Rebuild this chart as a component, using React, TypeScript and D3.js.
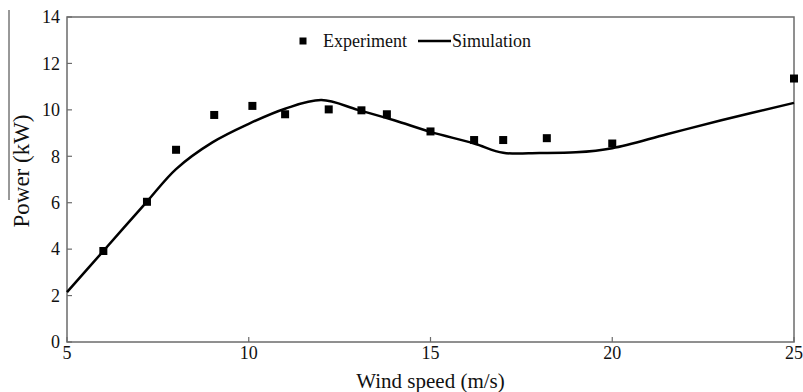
import React from "react";
import * as d3 from "d3";

// Measured turbine output vs. wind speed
const experimentSpeed = [6.0, 7.2, 8.0, 9.05, 10.1, 11.0, 12.2, 13.1, 13.8, 15.0, 16.2, 17.0, 18.2, 20.0, 25.0];
const experimentPower = [3.92, 6.04, 8.28, 9.78, 10.17, 9.81, 10.02, 9.98, 9.81, 9.07, 8.7, 8.7, 8.78, 8.55, 11.35];

// Simulated power curve
const simulationSpeed = [5, 6, 7.2, 8, 9, 10, 11, 12, 13, 14, 15, 16.2, 17, 18, 19, 20, 21.5, 23, 25];
const simulationPower = [2.15, 3.92, 6.05, 7.45, 8.6, 9.4, 10.05, 10.42, 10.0, 9.55, 9.05, 8.55, 8.15, 8.14, 8.17, 8.35, 8.95, 9.55, 10.3];

const xTicks = [5, 10, 15, 20, 25];
const yTicks = [0, 2, 4, 6, 8, 10, 12, 14];

const W = 803;
const H = 392;
const FONT = "Liberation Serif, DejaVu Serif, serif";

export default function App() {
  const x = d3.scaleLinear().domain([5, 25]).range([67, 794]);
  const y = d3.scaleLinear().domain([0, 14]).range([342, 17]);

  const sim = simulationSpeed.map((s, i) => [s, simulationPower[i]] as [number, number]);
  const line = d3
    .line<[number, number]>()
    .x((d) => x(d[0]))
    .y((d) => y(d[1]))
    .curve(d3.curveCatmullRom.alpha(0.5));

  const exp = experimentSpeed.map((s, i) => [s, experimentPower[i]]);
  const sq = 8;
  const txt = { fontFamily: FONT, fill: "#111" } as const;

  return (
    <svg
      width={W}
      height={H}
      style={{ position: "absolute", left: 0, top: 0, background: "#fff" }}
    >
      <rect x={0} y={0} width={W} height={H} fill="#fff" />
      {/* stray rule beside the y title */}
      <line x1={9} x2={9} y1={10} y2={200} stroke="#333" strokeWidth={1} />

      {/* frame */}
      <rect
        x={x(5)}
        y={y(14)}
        width={x(25) - x(5)}
        height={y(0) - y(14)}
        fill="none"
        stroke="#6b6b6b"
        strokeWidth={1.5}
      />

      {/* y ticks */}
      {yTicks.map((t) => (
        <g key={"y" + t}>
          <line x1={x(5)} x2={x(5) + 5} y1={y(t)} y2={y(t)} stroke="#6b6b6b" strokeWidth={1.2} />
          <text x={x(5) - 7} y={y(t)} dy="0.35em" textAnchor="end" fontSize={18} style={txt}>
            {t}
          </text>
        </g>
      ))}

      {/* x ticks */}
      {xTicks.map((t) => (
        <g key={"x" + t}>
          <line x1={x(t)} x2={x(t)} y1={y(0)} y2={y(0) - 5} stroke="#6b6b6b" strokeWidth={1.2} />
          <text x={x(t)} y={y(0) + 17} textAnchor="middle" fontSize={18} style={txt}>
            {t}
          </text>
        </g>
      ))}

      {/* axis titles */}
      <text x={x(15)} y={388} textAnchor="middle" fontSize={21} style={txt}>
        Wind speed (m/s)
      </text>
      <text
        transform={`translate(29, ${(110 + 232) / 2}) rotate(-90)`}
        textAnchor="middle"
        fontSize={23}
        style={txt}
      >
        Power (kW)
      </text>

      {/* simulation curve */}
      <path d={line(sim) ?? ""} fill="none" stroke="#000" strokeWidth={2.5} />

      {/* experiment markers */}
      {exp.map(([s, p], i) => (
        <rect key={i} x={x(s) - sq / 2} y={y(p) - sq / 2} width={sq} height={sq} fill="#000" />
      ))}

      {/* legend */}
      <rect x={303 - 3.5} y={41 - 3.5} width={7} height={7} fill="#000" />
      <text x={323} y={41} dy="0.35em" fontSize={18} style={txt}>
        Experiment
      </text>
      <line x1={418} x2={451} y1={41} y2={41} stroke="#000" strokeWidth={2.5} />
      <text x={452} y={41} dy="0.35em" fontSize={18} style={txt}>
        Simulation
      </text>
    </svg>
  );
}
